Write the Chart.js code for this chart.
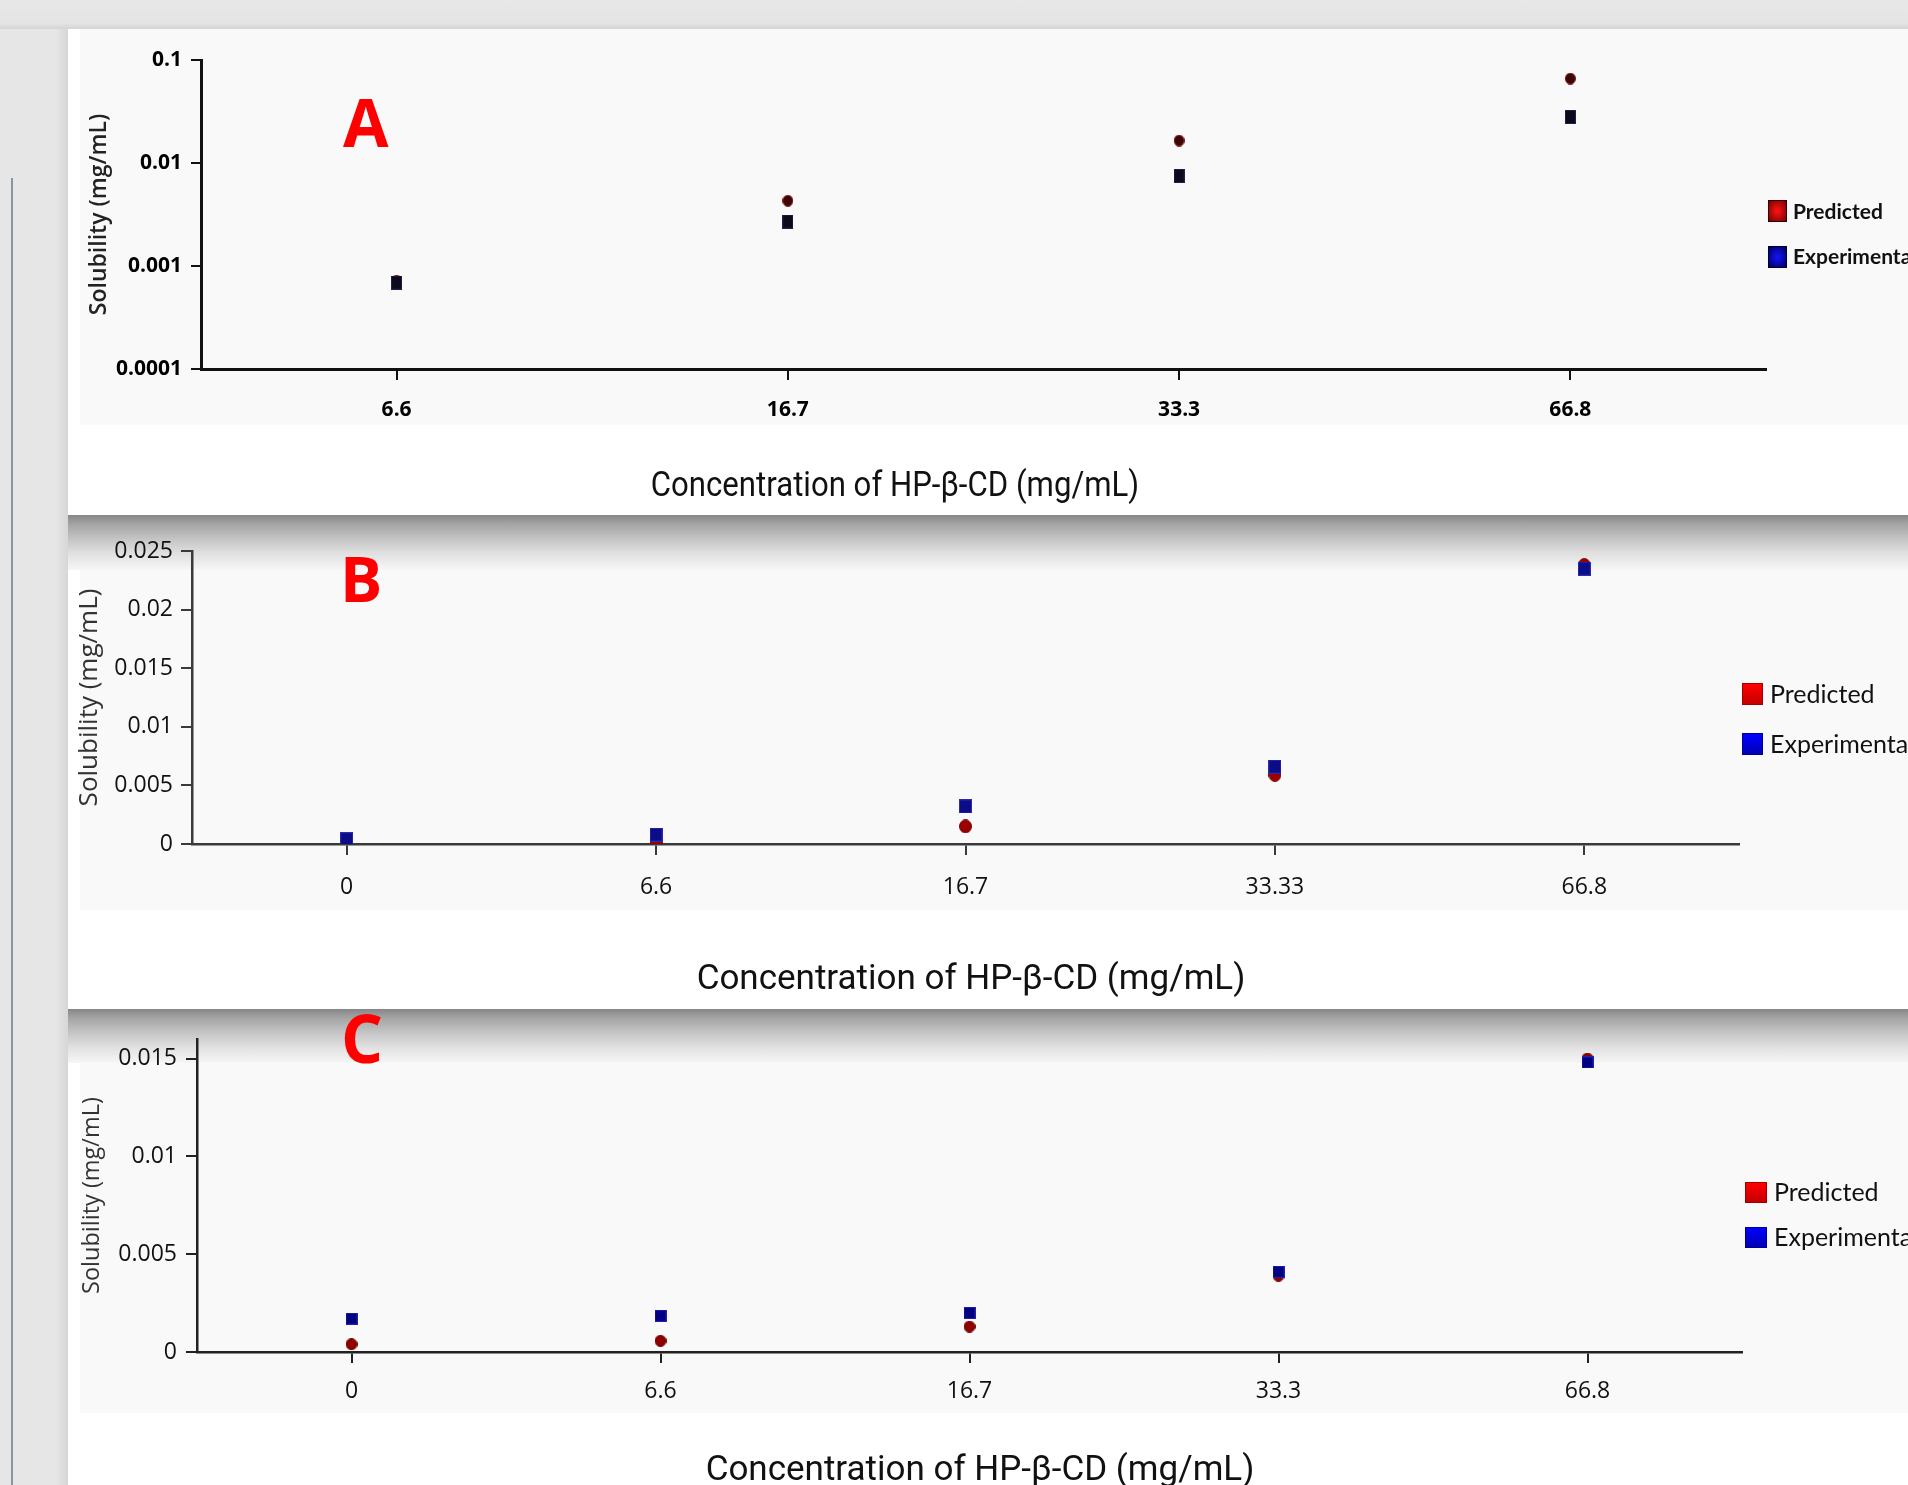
<!DOCTYPE html>
<html>
<head>
<meta charset="utf-8">
<title>Solubility of drug vs HP-β-CD</title>
<script src="https://cdn.jsdelivr.net/npm/chart.js@4.4.1/dist/chart.umd.min.js"></script>
<style>
  html, body { margin: 0; padding: 0; }
  body { width: 1908px; height: 1485px; overflow: hidden; position: relative; background: #e6e6e6; }
  .bg { position: absolute; }
  .panel { position: absolute; left: 68px; width: 1840px; background: #ffffff; }
  .band { position: absolute; left: 68px; width: 1840px;
          background: linear-gradient(#878787 0%, #a6a6a6 18%, #c6c6c6 45%, #e2e2e2 72%, #f6f6f6 100%); }
  .plotbg { position: absolute; left: 80px; width: 1828px; background: #f9f9f9; }
  .wrap { position: absolute; left: 0; width: 1908px; }
  .xtitle { position: absolute; font-family: Roboto, sans-serif; font-size: 35px; line-height: 35px;
            color: #111; white-space: nowrap; }
  .letter { position: absolute; font-family: 'Open Sans', sans-serif; font-weight: 700; color: #ff0000; line-height: 1; }
  .lg { position: absolute; font-family: Lato, sans-serif; color: #111; white-space: nowrap; }
</style>
</head>
<body>
<div class="bg" style="left:0;top:0;width:1908px;height:29px;background:linear-gradient(#e8e8e8 0%, #e4e4e4 80%, #d4d4d4 100%);"></div>
<div class="bg" style="left:11px;top:178px;width:2px;height:1307px;background:#8796a5;"></div>
<div class="bg" style="left:56px;top:29px;width:12px;height:1456px;background:linear-gradient(to right,#e6e6e6,#d6d6d6);"></div>

<div class="panel" style="top:29px;height:486px;"></div>
<div class="plotbg" style="top:29px;height:396px;"></div>

<div class="panel" style="top:515px;height:494px;"></div>
<div class="band" style="top:515px;height:55px;"></div>
<div class="plotbg" style="top:570px;height:340px;"></div>

<div class="panel" style="top:1009px;height:476px;"></div>
<div class="band" style="top:1009px;height:54px;"></div>
<div class="plotbg" style="top:1063px;height:350px;"></div>

<div class="wrap" style="top:0;height:515px;"><canvas id="chartA"></canvas></div>
<div class="wrap" style="top:515px;height:495px;"><canvas id="chartB"></canvas></div>
<div class="wrap" style="top:1010px;height:475px;"><canvas id="chartC"></canvas></div>

<script>
// ---- data ----
const seriesNames = ['Predicted', 'Experimental'];
const xTitle = 'Concentration of HP-β-CD (mg/mL)';
const yTitle = 'Solubility (mg/mL)';

// panel A (log axis)
const catsA = ['6.6', '16.7', '33.3', '66.8'];
const predA = [0.00072, 0.0043, 0.0165, 0.066];
const expA = [0.00069, 0.0027, 0.0075, 0.028];
const yTicksA = [0.0001, 0.001, 0.01, 0.1];
const yLabelsA = ['0.0001', '0.001', '0.01', '0.1'];

// panel B
const catsB = ['0', '6.6', '16.7', '33.33', '66.8'];
const predB = [0.00005, 0.00015, 0.0015, 0.0059, 0.0238];
const expB = [0.0004, 0.0008, 0.0032, 0.0066, 0.0235];
const yTicksB = [0, 0.005, 0.01, 0.015, 0.02, 0.025];
const yLabelsB = ['0', '0.005', '0.01', '0.015', '0.02', '0.025'];

// panel C
const catsC = ['0', '6.6', '16.7', '33.3', '66.8'];
const predC = [0.0004, 0.00057, 0.0013, 0.0039, 0.0150];
const expC = [0.0017, 0.00185, 0.0020, 0.0041, 0.0148];
const yTicksC = [0, 0.005, 0.01, 0.015];
const yLabelsC = ['0', '0.005', '0.01', '0.015'];

// small marker images, the original marks are not quite square
function mark(w, h, shape, fill, edge) {
  const c = document.createElement('canvas');
  c.width = w; c.height = h;
  const g = c.getContext('2d');
  g.fillStyle = fill; g.strokeStyle = edge; g.lineWidth = 1;
  if (shape === 'circle') {
    g.beginPath();
    g.ellipse(w / 2, h / 2, w / 2 - 0.5, h / 2 - 0.5, 0, 0, Math.PI * 2);
    g.fill(); g.stroke();
  } else {
    g.fillRect(0, 0, w, h);
    g.strokeRect(0.5, 0.5, w - 1, h - 1);
  }
  return c;
}

function makeChart(id, p) {
  const axisGrid = (tl) => ({
    display: true, drawOnChartArea: false, drawTicks: true, tickLength: tl,
    color: p.axisColor, tickColor: p.axisColor, lineWidth: 2
  });
  return new Chart(document.getElementById(id), {
    type: 'line',
    data: {
      labels: p.cats,
      datasets: [
        { label: seriesNames[1], data: p.exp, showLine: false, borderWidth: 0, pointRadius: 6, pointStyle: p.expMark, order: 0 },
        { label: seriesNames[0], data: p.pred, showLine: false, borderWidth: 0, pointRadius: 6, pointStyle: p.predMark, order: 1 }
      ]
    },
    options: {
      responsive: true,
      maintainAspectRatio: false,
      animation: false,
      layout: { padding: p.pad },
      plugins: { legend: { display: false }, tooltip: { enabled: false } },
      scales: {
        x: {
          type: 'category',
          offset: true,
          afterFit: (s) => { s.height = p.xH; },
          grid: axisGrid(p.xTl),
          border: { display: true, color: p.axisColor, width: p.axisW },
          ticks: { color: p.tickColor, font: p.tickFont, padding: p.xPad, maxRotation: 0, autoSkip: false }
        },
        y: {
          type: p.yType,
          min: p.yMin,
          max: p.yMax,
          afterFit: (s) => { s.width = p.yW; },
          afterBuildTicks: (s) => { s.ticks = p.yTicks.map(v => ({ value: v })); },
          grid: axisGrid(p.yTl),
          border: { display: true, color: p.axisColor, width: p.axisW },
          ticks: { color: p.tickColor, font: p.tickFont, padding: p.yPad,
                   callback: (v, i) => p.yLabels[i] },
          title: { display: true, text: yTitle, color: p.yTitleColor, font: p.yTitleFont,
                   padding: { top: p.yTitlePad, bottom: 0 } }
        }
      }
    }
  });
}

makeChart('chartA', {
  cats: catsA, pred: predA, exp: expA,
  predMark: mark(11, 12, 'circle', '#3a0606', '#8a1010'),
  expMark: mark(11, 14, 'rect', '#0a0a1c', '#20204a'),
  pad: { left: 0, top: 60, right: 142, bottom: 0 }, xH: 146, yW: 201,
  yType: 'logarithmic', yMin: 0.0001, yMax: 0.1, yTicks: yTicksA, yLabels: yLabelsA,
  axisColor: '#111', axisW: 3, xTl: 11, yTl: 10, xPad: 17, yPad: 9,
  tickColor: '#000', tickFont: { family: "'Open Sans'", size: 21, weight: 'bold' },
  yTitleColor: '#222', yTitleFont: { family: "'Open Sans'", size: 23, weight: '600' }, yTitlePad: 86
});

makeChart('chartB', {
  cats: catsB, pred: predB, exp: expB,
  predMark: mark(13, 14, 'circle', '#9a0000', '#7a0000'),
  expMark: mark(13, 14, 'rect', '#0c0c86', '#2a2ab0'),
  pad: { left: 0, top: 36, right: 169, bottom: 0 }, xH: 166, yW: 192,
  yType: 'linear', yMin: 0, yMax: 0.025, yTicks: yTicksB, yLabels: yLabelsB,
  axisColor: '#3a3a3a', axisW: 2.5, xTl: 11, yTl: 11, xPad: 19, yPad: 8,
  tickColor: '#111', tickFont: { family: "'Open Sans'", size: 23 },
  yTitleColor: '#333', yTitleFont: { family: "'Open Sans'", size: 26 }, yTitlePad: 74
});

makeChart('chartC', {
  cats: catsC, pred: predC, exp: expC,
  predMark: mark(12, 12, 'circle', '#8e0000', '#700000'),
  expMark: mark(12, 12, 'rect', '#000080', '#2020a8'),
  pad: { left: 0, top: 29, right: 166, bottom: 0 }, xH: 133, yW: 197,
  yType: 'linear', yMin: 0, yMax: 0.016, yTicks: yTicksC, yLabels: yLabelsC,
  axisColor: '#222', axisW: 2.5, xTl: 11, yTl: 11, xPad: 15, yPad: 9,
  tickColor: '#111', tickFont: { family: "'Open Sans'", size: 23 },
  yTitleColor: '#333', yTitleFont: { family: "'Open Sans'", size: 23.5 }, yTitlePad: 78
});

// ---- html text: axis titles, panel letters, legends ----
function addText(txt, cls, css) {
  const d = document.createElement('div');
  d.className = cls;
  d.textContent = txt;
  Object.assign(d.style, css);
  document.body.appendChild(d);
  return d;
}

addText(xTitle, 'xtitle', { left: '895px', top: '467px', transform: 'translateX(-50%) scaleX(0.89)' });
addText(xTitle, 'xtitle', { left: '971px', top: '960px', transform: 'translateX(-50%)' });
addText(xTitle, 'xtitle', { left: '980px', top: '1451px', transform: 'translateX(-50%)' });

addText('A', 'letter', { left: '343px', top: '88px', fontSize: '66px' });
addText('B', 'letter', { left: '340px', top: '546px', fontSize: '63px' });
addText('C', 'letter', { left: '341px', top: '1004px', fontSize: '66px' });

function addLegend(L) {
  seriesNames.forEach((name, i) => {
    const cy = L.centers[i];
    const b = document.createElement('div');
    Object.assign(b.style, {
      position: 'absolute', left: L.boxX + 'px', top: (cy - L.boxH / 2) + 'px',
      width: L.boxW + 'px', height: L.boxH + 'px', boxSizing: 'border-box',
      background: L.boxBg[i], border: L.boxBorder[i]
    });
    document.body.appendChild(b);
    addText(name, 'lg', {
      left: L.textX + 'px', top: (cy - 0.63 * L.size) + 'px',
      fontSize: L.size + 'px', lineHeight: (1.2 * L.size) + 'px', fontWeight: L.weight
    });
  });
}

addLegend({ centers: [211, 256.5], boxX: 1768, boxW: 19, boxH: 22, textX: 1793, size: 21, weight: 'bold',
  boxBg: ['radial-gradient(#ff1414, #7a0000)', 'radial-gradient(#1414ff, #00005a)'],
  boxBorder: ['1px solid #300000', '1px solid #000030'] });
addLegend({ centers: [694, 743.5], boxX: 1742, boxW: 21, boxH: 22, textX: 1770, size: 25, weight: 'normal',
  boxBg: ['linear-gradient(#ff0000, #c40000)', 'linear-gradient(#0000ff, #0000b4)'],
  boxBorder: ['1px solid #a00000', '1px solid #000090'] });
addLegend({ centers: [1192, 1237], boxX: 1745, boxW: 22, boxH: 21, textX: 1774, size: 25, weight: 'normal',
  boxBg: ['linear-gradient(#ff0000, #c40000)', 'linear-gradient(#0000ff, #0000b4)'],
  boxBorder: ['1px solid #a00000', '1px solid #000090'] });
</script>
</body>
</html>
